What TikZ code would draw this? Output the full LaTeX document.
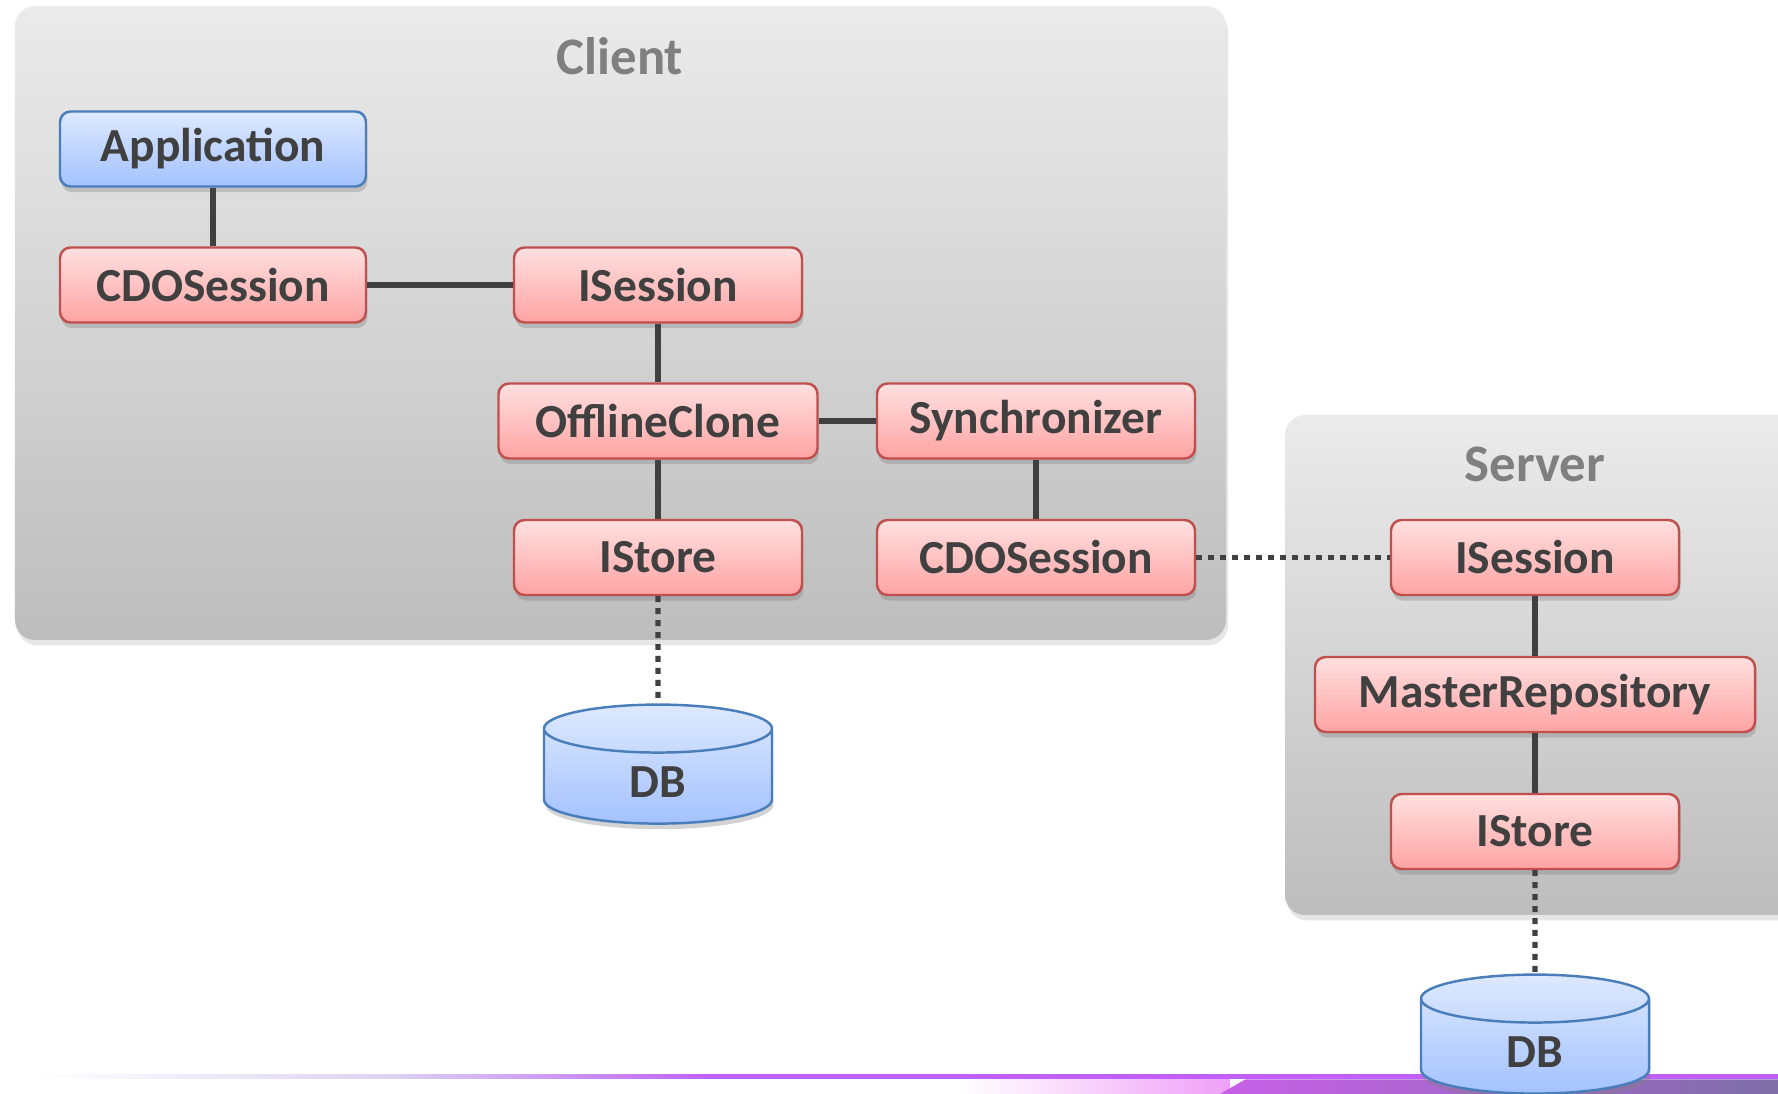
\documentclass[tikz,border=0pt]{standalone}
\usepackage{fontspec}
\setmainfont{Carlito}
\usetikzlibrary{positioning}
\usetikzlibrary{shapes.geometric}
\usetikzlibrary{shadows}

\definecolor{boxred}{HTML}{C0504D}
\definecolor{redtop}{HTML}{FFE0E0}
\definecolor{redbot}{HTML}{FFA3A3}
\definecolor{boxblue}{HTML}{4A7EBB}
\definecolor{bluetop}{HTML}{DEE9FF}
\definecolor{bluebot}{HTML}{A3C2FF}
\definecolor{textgray}{HTML}{404040}
\definecolor{titlegray}{HTML}{7F7F7F}
\definecolor{areatop}{HTML}{EBEBEB}
\definecolor{areabot}{HTML}{BDBDBD}
\definecolor{barpurple}{HTML}{C060F8}
\definecolor{barlav}{HTML}{DCD2F2}
\definecolor{barpink}{HTML}{F0A0F8}
\definecolor{barmagenta}{HTML}{C860E8}
\definecolor{bargray}{HTML}{7E6FA8}

\pgfdeclarehorizontalshading{barshade}{100bp}{color(0bp)=(white); color(26bp)=(white);
  color(36bp)=(barlav); color(45bp)=(barpurple); color(100bp)=(barpurple)}

\tikzset{
  part/.style={draw=boxred, line width=0.7pt, rounded corners=3pt,
    top color=redtop, bottom color=redbot, minimum height=0.75cm,
    text=textgray, font=\fontsize{13.5}{16}\selectfont\bfseries,
    drop shadow={shadow xshift=0.4pt, shadow yshift=-1.6pt, opacity=0.35}},
  app/.style={part, draw=boxblue, top color=bluetop, bottom color=bluebot},
  db/.style={cylinder, shape border rotate=90, aspect=0.6,
    minimum width=2.28cm, minimum height=1.19cm, draw=boxblue, line width=0.7pt,
    top color=bluetop, bottom color=bluebot,
    text=textgray, font=\fontsize{13.5}{16}\selectfont\bfseries,
    drop shadow={shadow xshift=0.4pt, shadow yshift=-1.6pt, opacity=0.35}},
  area/.style={rounded corners=0.2cm, top color=areatop, bottom color=areabot,
    drop shadow={shadow xshift=0.6pt, shadow yshift=-1.5pt, opacity=0.2}},
  title/.style={text=titlegray, font=\fontsize{15}{18}\selectfont\bfseries},
  link/.style={draw=textgray, line width=1.6pt},
  remote/.style={draw=textgray, line width=1.5pt, dash pattern=on 1.7pt off 1.7pt}
}

\begin{document}
\begin{tikzpicture}
  \useasboundingbox (0,0) rectangle (17.78,10.94);
  \clip (0,0) rectangle (17.78,10.94);

  % client and server areas
  \path[area] (0.15,4.54) rectangle (12.26,10.88);
  \path[area] (12.85,1.79) rectangle (18.2,6.79);
  \node[title] (client) at (6.20,10.38) {Client};
  \node[title] (server) at (15.35,6.30) {Server};

  % bar at the bottom
  \shade[shading=barshade] (0,0.15) rectangle (17.78,0.19);
  \shade[left color=white, right color=barpink] (9.6,0) rectangle (12.3,0.145);
  \shade[left color=barmagenta, right color=bargray] (12.2,0) -- (12.45,0.145) -- (17.78,0.145) -- (17.78,0) -- cycle;

  % client side
  \node[app, minimum width=3.06cm] (app) at (2.13,9.45) {Application};
  \node[part, minimum width=3.06cm] (csession) at (2.13,8.09) {CDOSession};
  \node[part, minimum width=2.88cm] (cisession) at (6.58,8.09) {ISession};
  \node[part, minimum width=3.19cm] (clone) at (6.58,6.73) {OfflineClone};
  \node[part, minimum width=3.18cm] (sync) at (10.36,6.73) {Synchronizer};
  \node[part, minimum width=2.88cm] (cstore) at (6.58,5.365) {IStore};
  \node[part, minimum width=3.18cm] (syncsession) at (10.36,5.365) {CDOSession};
  \node[db] (cdb) at (6.58,3.12) {DB};

  % server side
  \node[part, minimum width=2.88cm] (sisession) at (15.35,5.365) {ISession};
  \node[part, minimum width=4.40cm] (master) at (15.35,3.995) {MasterRepository};
  \node[part, minimum width=2.88cm] (sstore) at (15.35,2.625) {IStore};
  \node[db] (sdb) at (15.35,0.42) {DB};

  \draw[link] (app) -- (csession);
  \draw[link] (csession) -- (cisession);
  \draw[link] (cisession) -- (clone);
  \draw[link] (clone) -- (sync);
  \draw[link] (sync) -- (syncsession);
  \draw[link] (clone) -- (cstore);
  \draw[remote] (cstore) -- (cdb);
  \draw[remote] (syncsession) -- (sisession);
  \draw[link] (sisession) -- (master);
  \draw[link] (master) -- (sstore);
  \draw[remote] (sstore) -- (sdb);
\end{tikzpicture}
\end{document}
